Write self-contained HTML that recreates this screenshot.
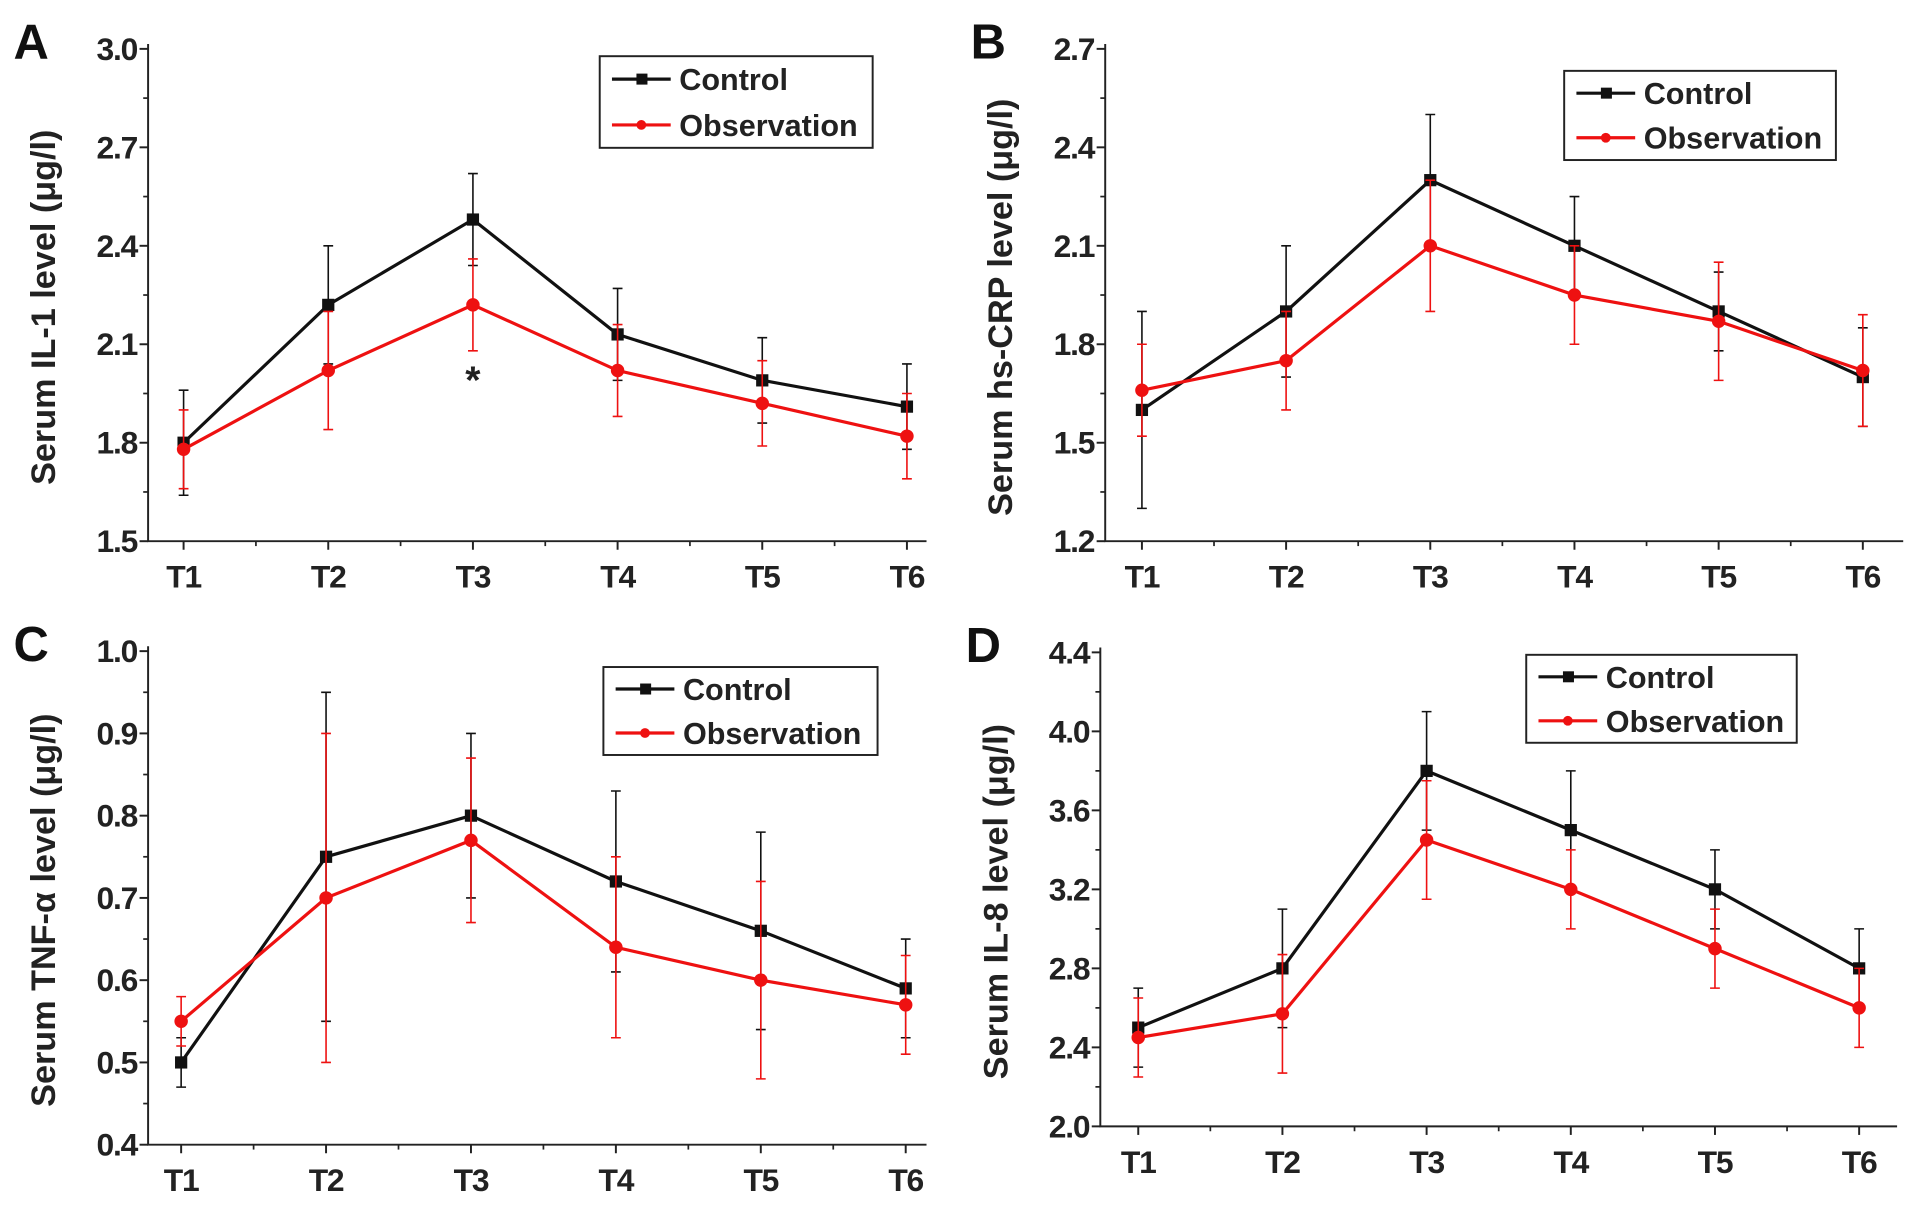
<!DOCTYPE html>
<html><head><meta charset="utf-8"><style>
html,body{margin:0;padding:0;background:#fff;}
svg{display:block;}
text{font-family:"Liberation Sans",Arial,sans-serif;font-weight:bold;}
</style></head><body>
<svg id="fig" width="1913" height="1207" viewBox="0 0 1563 988" preserveAspectRatio="none" xmlns="http://www.w3.org/2000/svg"></svg>
<script>
const categories = ["T1","T2","T3","T4","T5","T6"];
const aCtrl = [1.80,2.22,2.48,2.13,1.99,1.91];
const aCtrlErr = [0.16,0.18,0.14,0.14,0.13,0.13];
const aObs = [1.78,2.02,2.22,2.02,1.92,1.82];
const aObsErr = [0.12,0.18,0.14,0.14,0.13,0.13];
const aTicks = [1.5,1.8,2.1,2.4,2.7,3.0];
const bCtrl = [1.60,1.90,2.30,2.10,1.90,1.70];
const bCtrlErr = [0.30,0.20,0.20,0.15,0.12,0.15];
const bObs = [1.66,1.75,2.10,1.95,1.87,1.72];
const bObsErr = [0.14,0.15,0.20,0.15,0.18,0.17];
const bTicks = [1.2,1.5,1.8,2.1,2.4,2.7];
const cCtrl = [0.50,0.75,0.80,0.72,0.66,0.59];
const cCtrlErr = [0.03,0.20,0.10,0.11,0.12,0.06];
const cObs = [0.55,0.70,0.77,0.64,0.60,0.57];
const cObsErr = [0.03,0.20,0.10,0.11,0.12,0.06];
const cTicks = [0.4,0.5,0.6,0.7,0.8,0.9,1.0];
const dCtrl = [2.5,2.8,3.8,3.5,3.2,2.8];
const dCtrlErr = [0.2,0.3,0.3,0.3,0.2,0.2];
const dObs = [2.45,2.57,3.45,3.2,2.9,2.6];
const dObsErr = [0.2,0.3,0.3,0.2,0.2,0.2];
const dTicks = [2.0,2.4,2.8,3.2,3.6,4.0,4.4];

const svg = document.getElementById('fig');
const NS = 'http://www.w3.org/2000/svg';
function mk(tag, attrs, parent){
  const e = document.createElementNS(NS, tag);
  for (const k in attrs) e.setAttribute(k, attrs[k]);
  (parent||svg).appendChild(e);
  return e;
}

function panel(cfg){
  const g = mk('g', {});
  
  
  const ticks = cfg.ticks;
  const ymin = ticks[0], ymax = ticks[ticks.length-1];
  const yS = v => cfg.yBot + (v - ymin) / (ymax - ymin) * (cfg.yTop - cfg.yBot);
  const xS = i => cfg.x1 + i * (cfg.x6 - cfg.x1) / (categories.length - 1);
  const step = (cfg.x6 - cfg.x1) / 5;
  const ax = mk('path', {d:`M${cfg.ax},${yS(ymax)-4} L${cfg.ax},${cfg.yBot} L${cfg.xEnd},${cfg.yBot}`, fill:'none', stroke:'#222', 'stroke-width':1.6}, g);
  
  
  ticks.forEach((t, i) => {
    const y = yS(t);
    mk('line', {x1:cfg.ax-7, x2:cfg.ax, y1:y, y2:y, stroke:'#222','stroke-width':1.6}, g);
    if (i < ticks.length-1) {
      const ym = yS((t + ticks[i+1]) / 2);
      mk('line', {x1:cfg.ax-4, x2:cfg.ax, y1:ym, y2:ym, stroke:'#222','stroke-width':1.4}, g);
    }
    const lbl = mk('text', {x:cfg.ax-9, y:y+9, 'text-anchor':'end', 'font-size':26, 'letter-spacing':-1, fill:'#222'}, g);
    lbl.textContent = t.toFixed(1);
    
    
  });
  categories.forEach((c, i) => {
    const x = xS(i);
    mk('line', {x1:x, x2:x, y1:cfg.yBot, y2:cfg.yBot+7, stroke:'#222','stroke-width':1.6}, g);
    const xm = x + step/2;
    if (xm < cfg.xEnd) mk('line', {x1:xm, x2:xm, y1:cfg.yBot, y2:cfg.yBot+4, stroke:'#222','stroke-width':1.4}, g);
    const lbl = mk('text', {x:x, y:cfg.yBot+38, 'text-anchor':'middle', 'font-size':26, 'letter-spacing':-1, fill:'#222'}, g);
    lbl.textContent = c;
    
    
  });
  const cy = (yS(ymax) + cfg.yBot) / 2 + 10;
  const yt = mk('text', {x:0, y:0, transform:`translate(${cfg.ax-76},${cy}) rotate(-90)`, 'text-anchor':'middle', 'font-size':28, fill:'#222'}, g);
  yt.textContent = cfg.title;
  
  
  const lt = mk('text', {x:cfg.ax-110, y:yS(ymax)+8, 'font-size':40, fill:'#111'}, g);
  lt.textContent = cfg.letter;
  
  
  const series = [
    {vals:cfg.ctrl, errs:cfg.ctrlErr, color:'#111', name:'control', sq:true},
    {vals:cfg.obs, errs:cfg.obsErr, color:'#ee1111', name:'observation', sq:false}
  ];
  series.forEach(s => {
    const sg = mk('g', {}, g);
    
    
    s.vals.forEach((v, i) => {
      const x = xS(i), y1 = yS(v + s.errs[i]), y2 = yS(v - s.errs[i]);
      const eb = mk('path', {d:`M${x},${y1} L${x},${y2} M${x-4},${y1} L${x+4},${y1} M${x-4},${y2} L${x+4},${y2}`, stroke:s.color, 'stroke-width':1.3, fill:'none'}, sg);
      
      
    });
    const pts = s.vals.map((v, i) => xS(i) + ',' + yS(v)).join(' ');
    const pl = mk('polyline', {points:pts, fill:'none', stroke:s.color, 'stroke-width':2.6}, sg);
    
    
    s.vals.forEach((v, i) => {
      let m;
      if (s.sq) m = mk('rect', {x:xS(i)-5, y:yS(v)-5, width:10, height:10, fill:s.color}, sg);
      else m = mk('circle', {cx:xS(i), cy:yS(v), r:5.5, fill:s.color}, sg);
      
      
    });
  });
  const L = cfg.leg;
  const lg = mk('g', {}, g);
  
  
  mk('rect', {x:L[0], y:L[1], width:L[2]-L[0], height:L[3]-L[1], fill:'#fff', stroke:'#222', 'stroke-width':1.6}, lg);
  const rowH = (L[3]-L[1]) / 2;
  [['Control','#111',true],['Observation','#ee1111',false]].forEach((e, i) => {
    const eg = mk('g', {}, lg);
    
    
    const y = L[1] + rowH*(i+0.5);
    mk('line', {x1:L[0]+10, x2:L[0]+58, y1:y, y2:y, stroke:e[1], 'stroke-width':2.6}, eg);
    if (e[2]) mk('rect', {x:L[0]+30, y:y-4.5, width:9, height:9, fill:e[1]}, eg);
    else mk('circle', {cx:L[0]+34, cy:y, r:4, fill:e[1]}, eg);
    const t = mk('text', {x:L[0]+65, y:y+9, 'font-size':25, fill:'#222'}, eg);
    t.textContent = e[0];
  });
  if (cfg.star) {
    const st = mk('text', {x:xS(2), y:cfg.star, 'text-anchor':'middle', 'font-size':32, fill:'#222'}, g);
    st.textContent = '*';
    
    
  }
}

panel({letter:'A', title:'Serum IL-1 level (μg/l)', ticks:aTicks, ax:121, yTop:40, yBot:443, x1:150, x6:741, xEnd:757,
  ctrl:aCtrl, ctrlErr:aCtrlErr, obs:aObs, obsErr:aObsErr, leg:[490,46,713,121], star:322});
panel({letter:'B', title:'Serum hs-CRP level (μg/l)', ticks:bTicks, ax:903, yTop:40, yBot:443, x1:933, x6:1522, xEnd:1555,
  ctrl:bCtrl, ctrlErr:bCtrlErr, obs:bObs, obsErr:bObsErr, leg:[1278,58,1500,131]});
panel({letter:'C', title:'Serum TNF-α level (μg/l)', ticks:cTicks, ax:121, yTop:533, yBot:937, x1:148, x6:740, xEnd:757,
  ctrl:cCtrl, ctrlErr:cCtrlErr, obs:cObs, obsErr:cObsErr, leg:[493,546,717,618]});
panel({letter:'D', title:'Serum IL-8 level (μg/l)', ticks:dTicks, ax:899, yTop:534, yBot:922, x1:930, x6:1519, xEnd:1550,
  ctrl:dCtrl, ctrlErr:dCtrlErr, obs:dObs, obsErr:dObsErr, leg:[1247,536,1468,608]});
</script>
</body></html>
